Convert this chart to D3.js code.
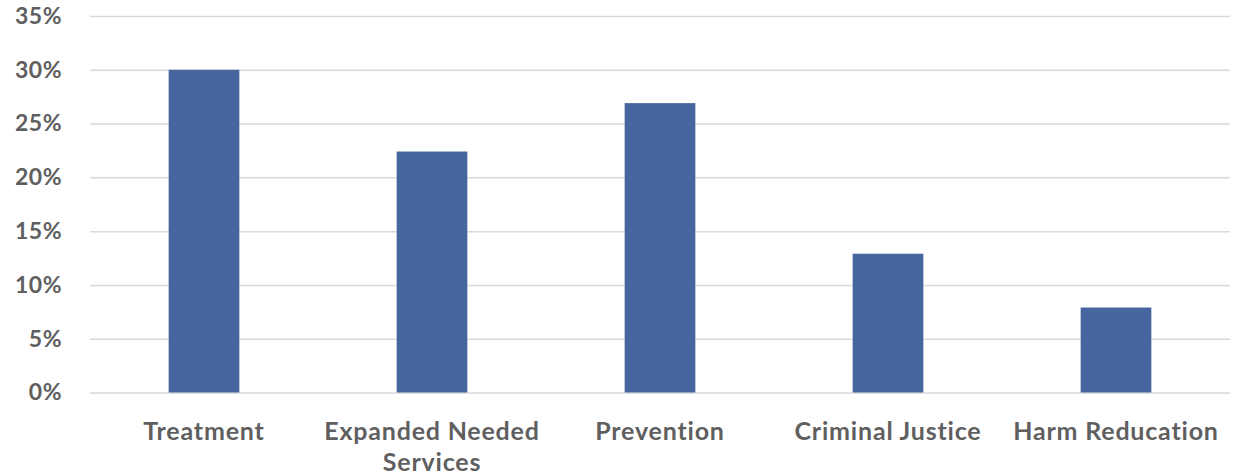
<!DOCTYPE html>
<html><head><meta charset="utf-8">
<script src="https://cdn.jsdelivr.net/npm/d3@7"></script>
<style>body{margin:0;background:#fff;} svg{display:block;}</style>
</head><body>
<svg id="chart" width="1238" height="476"></svg>
<script>
const categories = [["Treatment"], ["Expanded Needed", "Services"], ["Prevention"], ["Criminal Justice"], ["Harm Reducation"]];
const values = [30, 22.4, 26.9, 12.9, 7.9];
const yTicks = [0, 5, 10, 15, 20, 25, 30, 35];

(function () {
const svg = d3.select("#chart");
const mLeft = 90, mRight = 1230, mTop = 16, mBottom = 392.5;
const keys = categories.map(c => c.join(" "));
const x = d3.scaleBand().domain(keys).range([mLeft, mRight]).paddingInner(0.69).paddingOuter(0.345);
const y = d3.scaleLinear().domain([0, 35]).range([mBottom, mTop]);

const font = "Lato, 'Open Sans', sans-serif";
const yAxis = d3.axisLeft(y).tickValues(yTicks).tickFormat(d => d + "%").tickSize(-(mRight - mLeft)).tickPadding(28);
const g = svg.append("g").attr("transform", `translate(${mLeft},0)`).call(yAxis);
g.select(".domain").remove();
g.selectAll(".tick line").attr("stroke", "#d9d9d9").attr("stroke-width", 1.5);
g.selectAll(".tick text").attr("fill", "#5f5f5f").attr("font-family", font).attr("font-size", 23)
  .attr("font-weight", 700).attr("letter-spacing", 0.5);

svg.selectAll("rect.bar").data(values).enter().append("rect").attr("class", "bar")
  .attr("x", (d, i) => x(keys[i])).attr("width", x.bandwidth())
  .attr("y", d => y(d)).attr("height", d => y(0) - y(d)).attr("fill", "#47659e");

const labels = svg.append("g");
categories.forEach((c, i) => {
  const cx = x(keys[i]) + x.bandwidth() / 2;
  const t = labels.append("text").attr("x", cx).attr("y", 440)
    .attr("text-anchor", "middle").attr("fill", "#5f5f5f").attr("font-family", font)
    .attr("font-size", 25).attr("font-weight", 700).attr("letter-spacing", 0.8);
  c.forEach((line, j) => t.append("tspan").attr("x", cx).attr("dy", j === 0 ? 0 : 31).text(line));
});
})();
</script>
</body></html>
